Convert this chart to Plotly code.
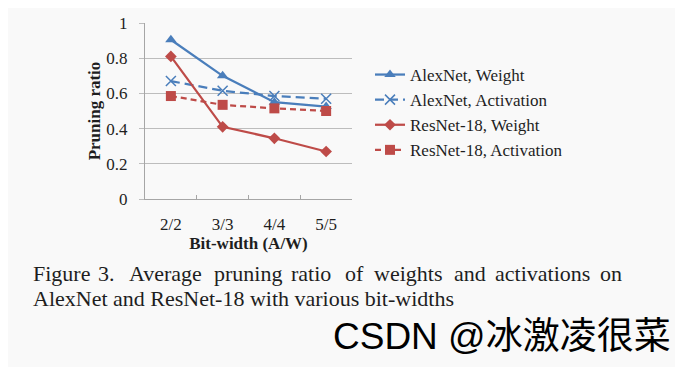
import plotly.graph_objects as go

categories = ["2/2", "3/3", "4/4", "5/5"]
alexnet_weight = [0.905, 0.70, 0.55, 0.525]
alexnet_activation = [0.67, 0.615, 0.585, 0.57]
resnet_weight = [0.81, 0.41, 0.345, 0.27]
resnet_activation = [0.585, 0.535, 0.515, 0.50]
y_ticks = [0, 0.2, 0.4, 0.6, 0.8, 1]
y_tick_text = ["0", "0.2", "0.4", "0.6", "0.8", "1"]

caption_line1_words = ["Figure", "3.", "Average", "pruning", "ratio", "of",
                       "weights", "and", "activations", "on"]
caption_line2 = "AlexNet and ResNet-18 with various bit-widths"
watermark = "CSDN @冰激凌很菜"

BLUE = "#4a7ebb"
RED = "#be4b48"
SERIF = "Liberation Serif, Times New Roman, serif"
TXT = "#1e1e1e"

# page has an 8px body margin; plot area target in page px: x 145..352, y 23..199
PX0, PX1, PY0, PY1 = 145, 352, 23, 199
OFF = 8
W, H = 683 - OFF, 367 - OFF


def px(x):
    return (x - PX0) / (PX1 - PX0)


def py(y):
    return (PY1 - y) / (PY1 - PY0)


fig = go.Figure()
fig.add_trace(go.Scatter(x=categories, y=alexnet_weight, name="AlexNet, Weight",
                         mode="lines+markers", legendgroup="a",
                         line=dict(color=BLUE, width=2.25),
                         marker=dict(symbol="triangle-up", size=10, color=BLUE)))
fig.add_trace(go.Scatter(x=categories, y=alexnet_activation, name="AlexNet, Activation",
                         mode="lines+markers", legendgroup="b",
                         line=dict(color=BLUE, width=2.25, dash="9px,5px"),
                         marker=dict(symbol="x-thin-open", size=10, color=BLUE,
                                     line=dict(color=BLUE, width=1.5))))
fig.add_trace(go.Scatter(x=categories, y=resnet_weight, name="ResNet-18, Weight",
                         mode="lines+markers", legendgroup="c",
                         line=dict(color=RED, width=2.25),
                         marker=dict(symbol="diamond", size=9, color=RED)))
fig.add_trace(go.Scatter(x=categories, y=resnet_activation, name="ResNet-18, Activation",
                         mode="lines+markers", legendgroup="d",
                         line=dict(color=RED, width=2.25, dash="6px,4px"),
                         marker=dict(symbol="square", size=10, color=RED)))

fig.update_layout(
    width=W, height=H,
    margin=dict(l=PX0 - OFF, r=W - (PX1 - OFF), t=PY0 - OFF, b=H - (PY1 - OFF),
                autoexpand=False),
    paper_bgcolor="#f9f9f9", plot_bgcolor="#f9f9f9",
    font=dict(family=SERIF, color=TXT, size=17),
    showlegend=True,
    legend=dict(x=px(370), xanchor="left", y=py(112.5), yanchor="middle",
                font=dict(family=SERIF, size=17, color=TXT),
                bgcolor="rgba(0,0,0,0)", tracegroupgap=5, traceorder="normal",
                itemwidth=30),
    xaxis=dict(type="category", showgrid=False, showline=True, linecolor="#a6a6a6",
               linewidth=1, ticks="inside", ticklen=4, tickcolor="#a6a6a6",
               tickmode="array", tickvals=categories, ticktext=categories,
               tickson="boundaries", range=[-0.5, 3.5], tickfont=dict(size=17),
               ticklabelstandoff=10, automargin=False,
               title=dict(text="<b>Bit-width (A/W)</b>", font=dict(size=17), standoff=3),
               zeroline=False),
    yaxis=dict(range=[0, 1], tickvals=y_ticks, ticktext=y_tick_text,
               showgrid=True, gridcolor="#bdbdbd", gridwidth=1,
               showline=True, linecolor="#a6a6a6", ticks="outside", ticklen=5,
               tickcolor="#bdbdbd", tickfont=dict(size=17), zeroline=False,
               ticklabelstandoff=8, automargin=False,
               title=dict(text="<b>Pruning ratio</b>", font=dict(size=17), standoff=1)),
)

# caption line 1 is justified: place each word at its position
word_x = [31, 96, 126.5, 211.5, 289, 342.5, 371.5, 451.5, 493, 598]
for wtxt, wx in zip(caption_line1_words, word_x):
    fig.add_annotation(text=wtxt, xref="paper", yref="paper", x=px(wx), y=py(273),
                       xanchor="left", yanchor="middle", showarrow=False,
                       font=dict(family=SERIF, size=22, color=TXT))
fig.add_annotation(text=caption_line2, xref="paper", yref="paper", x=px(31), y=py(298),
                   xanchor="left", yanchor="middle", showarrow=False,
                   font=dict(family=SERIF, size=22, color=TXT))
fig.add_annotation(text=watermark, xref="paper", yref="paper", x=px(673), y=py(336),
                   xanchor="right", yanchor="middle", showarrow=False,
                   font=dict(family="Liberation Sans, Noto Sans CJK SC, sans-serif",
                             size=37, color="#000000"))

fig.write_html("out.html")
